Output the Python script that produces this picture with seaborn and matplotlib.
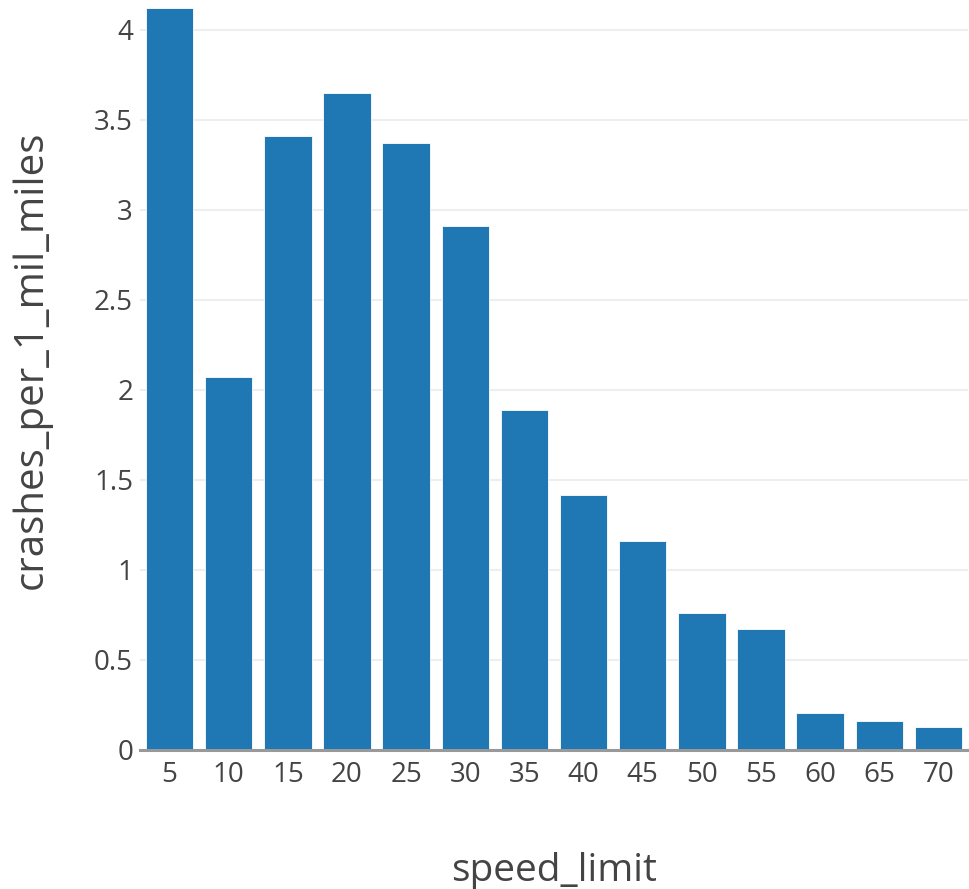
import pandas as pd
import matplotlib
matplotlib.use("Agg")
import matplotlib.pyplot as plt
import seaborn as sns
from matplotlib.ticker import FuncFormatter, MultipleLocator

# valeurs
speed_limit = [5, 10, 15, 20, 25, 30, 35, 40, 45, 50, 55, 60, 65, 70]
crashes_per_1_mil_miles = [4.12, 2.07, 3.41, 3.65, 3.37, 2.91, 1.89, 1.415,
                           1.16, 0.76, 0.67, 0.205, 0.16, 0.13]

df = pd.DataFrame({'speed_limit': speed_limit,
                   'crashes_per_1_mil_miles': crashes_per_1_mil_miles})

sns.set_style("white")
plt.rcParams['font.family'] = ['Open Sans', 'DejaVu Sans']

fig = plt.figure(figsize=(9.69, 8.89), dpi=100)
ax = fig.add_axes([140 / 969, 139 / 889, 828 / 969, 750 / 889])

sns.barplot(data=df, x='speed_limit', y='crashes_per_1_mil_miles',
            color='#1f77b4', saturation=1, width=0.8,
            edgecolor='white', linewidth=0.6, ax=ax, zorder=2)

ax.set_ylim(0, 750 / 180)
ax.set_xlim(-0.5, len(speed_limit) - 0.5)
ax.yaxis.set_major_locator(MultipleLocator(0.5))
ax.yaxis.set_major_formatter(FuncFormatter(lambda v, p: f'{v:g}'))
ax.grid(axis='y', color='#eeeeee', linewidth=1.5, zorder=0)
ax.set_axisbelow(True)

for s in ['top', 'right', 'left']:
    ax.spines[s].set_visible(False)
ax.spines['bottom'].set_color('#999999')
ax.spines['bottom'].set_linewidth(2.2)
ax.spines['bottom'].set_zorder(3)

ax.tick_params(axis='both', length=0, labelsize=20, colors='#444444')
ax.tick_params(axis='x', pad=8)
ax.tick_params(axis='y', pad=5)

ax.set_xlabel('speed_limit', fontsize=28, color='#444444', labelpad=45)
ax.set_ylabel('crashes_per_1_mil_miles', fontsize=29, color='#444444')
# le titre y est centré un peu plus haut (zone de tracé coupée en haut)
ax.yaxis.set_label_coords(-0.107, 0.52)

fig.savefig('out.png', dpi=100)
